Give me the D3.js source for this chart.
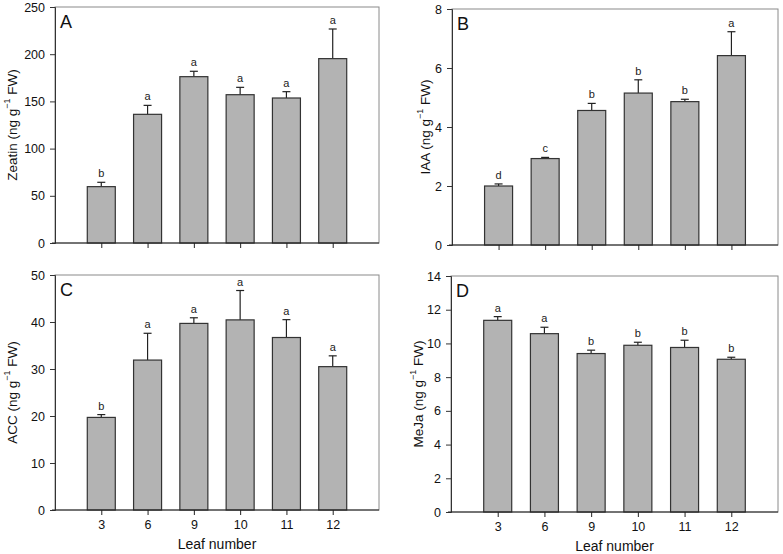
<!DOCTYPE html>
<html>
<head>
<meta charset="utf-8">
<script src="https://cdn.jsdelivr.net/npm/d3@7"></script>
<style>
  body { margin: 0; background: #fff; }
  svg { font-family: "Liberation Sans", Arial, sans-serif; }
</style>
</head>
<body>
<svg width="783" height="554"></svg>
<script>
var leaves = ["3", "6", "9", "10", "11", "12"];

var zeatin = [59.7, 136.3, 176.2, 157.1, 153.6, 195.3];
var zeatinErr = [4.6, 9.5, 5.7, 7.8, 6.7, 31.4];
var zeatinSig = ["b", "a", "a", "a", "a", "a"];

var iaa = [2.0, 2.93, 4.56, 5.15, 4.86, 6.42];
var iaaErr = [0.07, 0.04, 0.24, 0.45, 0.08, 0.81];
var iaaSig = ["d", "c", "b", "b", "b", "a"];

var acc = [19.7, 31.9, 39.7, 40.45, 36.7, 30.5];
var accErr = [0.6, 5.7, 1.2, 6.25, 3.8, 2.3];
var accSig = ["b", "a", "a", "a", "a", "a"];

var meja = [11.37, 10.58, 9.40, 9.89, 9.76, 9.06];
var mejaErr = [0.22, 0.38, 0.2, 0.18, 0.43, 0.12];
var mejaSig = ["a", "a", "b", "b", "b", "b"];

var zeatinTicks = [0, 50, 100, 150, 200, 250];
var iaaTicks = [0, 2, 4, 6, 8];
var accTicks = [0, 10, 20, 30, 40, 50];
var mejaTicks = [0, 2, 4, 6, 8, 10, 12, 14];

var svg = d3.select("svg");

function panel(opt) {
    var g = svg.append("g");

    var x = d3.scaleLinear()
        .domain([0, leaves.length + 1])
        .range([opt.left, opt.right]);

    var y = d3.scaleLinear()
        .domain([0, opt.ticks[opt.ticks.length - 1]])
        .range([opt.bottom, opt.top]);

    var bw = 28;

    // frame (top/right in grey)
    g.append("rect")
        .attr("x", opt.left)
        .attr("y", opt.top)
        .attr("width", opt.right - opt.left)
        .attr("height", opt.bottom - opt.top)
        .attr("fill", "none")
        .attr("stroke", "#8a8a8a")
        .attr("stroke-width", 1);

    // error bars
    var eb = g.append("g").attr("stroke", "#222").attr("stroke-width", 1.2);
    leaves.forEach(function(d, i) {
        var cx = x(i + 1);
        eb.append("line")
            .attr("x1", cx).attr("x2", cx)
            .attr("y1", y(opt.values[i])).attr("y2", y(opt.values[i] + opt.err[i]));
        eb.append("line")
            .attr("x1", cx - 4).attr("x2", cx + 4)
            .attr("y1", y(opt.values[i] + opt.err[i])).attr("y2", y(opt.values[i] + opt.err[i]));
    });

    g.selectAll("rect.bar")
        .data(opt.values)
        .enter().append("rect")
        .attr("class", "bar")
        .attr("x", function(d, i) { return x(i + 1) - bw / 2; })
        .attr("y", function(d) { return y(d); })
        .attr("width", bw)
        .attr("height", function(d) { return y(0) - y(d); })
        .attr("fill", "#b3b3b3")
        .attr("stroke", "#333")
        .attr("stroke-width", 1.2);

    g.selectAll("text.sig")
        .data(opt.sig)
        .enter().append("text")
        .attr("class", "sig")
        .attr("x", function(d, i) { return x(i + 1); })
        .attr("y", function(d, i) { return y(opt.values[i] + opt.err[i]) - 5; })
        .attr("text-anchor", "middle")
        .attr("font-size", 11)
        .attr("fill", "#222")
        .text(function(d) { return d; });

    // y axis
    var ya = g.append("g")
        .attr("transform", "translate(" + opt.left + ",0)")
        .call(d3.axisLeft(y).tickValues(opt.ticks).tickSize(5).tickPadding(5));
    ya.selectAll("text").attr("font-size", 12.5).attr("fill", "#111");
    ya.selectAll("line, path").attr("stroke", "#333");

    // x axis
    var xa = g.append("g")
        .attr("transform", "translate(0," + opt.bottom + ")")
        .call(d3.axisBottom(x).tickValues(d3.range(1, leaves.length + 1))
            .tickSize(5).tickSizeOuter(0).tickPadding(5)
            .tickFormat(function(d) { return opt.showX ? leaves[d - 1] : ""; }));
    xa.select(".domain").attr("d", "M" + (opt.left - 3) + ",0H" + opt.right);
    xa.selectAll("text").attr("font-size", 12.5).attr("fill", "#111");
    xa.selectAll("line, path").attr("stroke", "#222");

    if (opt.showX) {
        g.append("text")
            .attr("x", (opt.left + opt.right) / 2)
            .attr("y", opt.bottom + 39)
            .attr("text-anchor", "middle")
            .attr("font-size", 14)
            .attr("fill", "#111")
            .text("Leaf number");
    }

    // panel letter
    g.append("text")
        .attr("x", opt.left + 5)
        .attr("y", opt.top + 21)
        .attr("font-size", 18)
        .attr("fill", "#111")
        .text(opt.letter);

    // y label
    var lab = g.append("text")
        .attr("transform", "translate(" + opt.labelX + "," + ((opt.top + opt.bottom) / 2) + ") rotate(-90)")
        .attr("text-anchor", "middle")
        .attr("dominant-baseline", "central")
        .attr("font-size", 13.5)
        .attr("fill", "#111");
    lab.append("tspan").text(opt.name + " (ng g");
    lab.append("tspan").attr("baseline-shift", "super").attr("font-size", 9).text("\u22121");
    lab.append("tspan").text(" FW)");
}

panel({ letter: "A", name: "Zeatin", values: zeatin, err: zeatinErr, sig: zeatinSig, ticks: zeatinTicks,
        left: 55, right: 379, top: 7, bottom: 243, labelX: 12, showX: false });
panel({ letter: "B", name: "IAA", values: iaa, err: iaaErr, sig: iaaSig, ticks: iaaTicks,
        left: 452, right: 778, top: 9, bottom: 245, labelX: 425, showX: false });
panel({ letter: "C", name: "ACC", values: acc, err: accErr, sig: accSig, ticks: accTicks,
        left: 55, right: 379, top: 275, bottom: 510, labelX: 12, showX: true });
panel({ letter: "D", name: "MeJa", values: meja, err: mejaErr, sig: mejaSig, ticks: mejaTicks,
        left: 451, right: 778, top: 276, bottom: 512, labelX: 418, showX: true });
</script>
</body>
</html>
